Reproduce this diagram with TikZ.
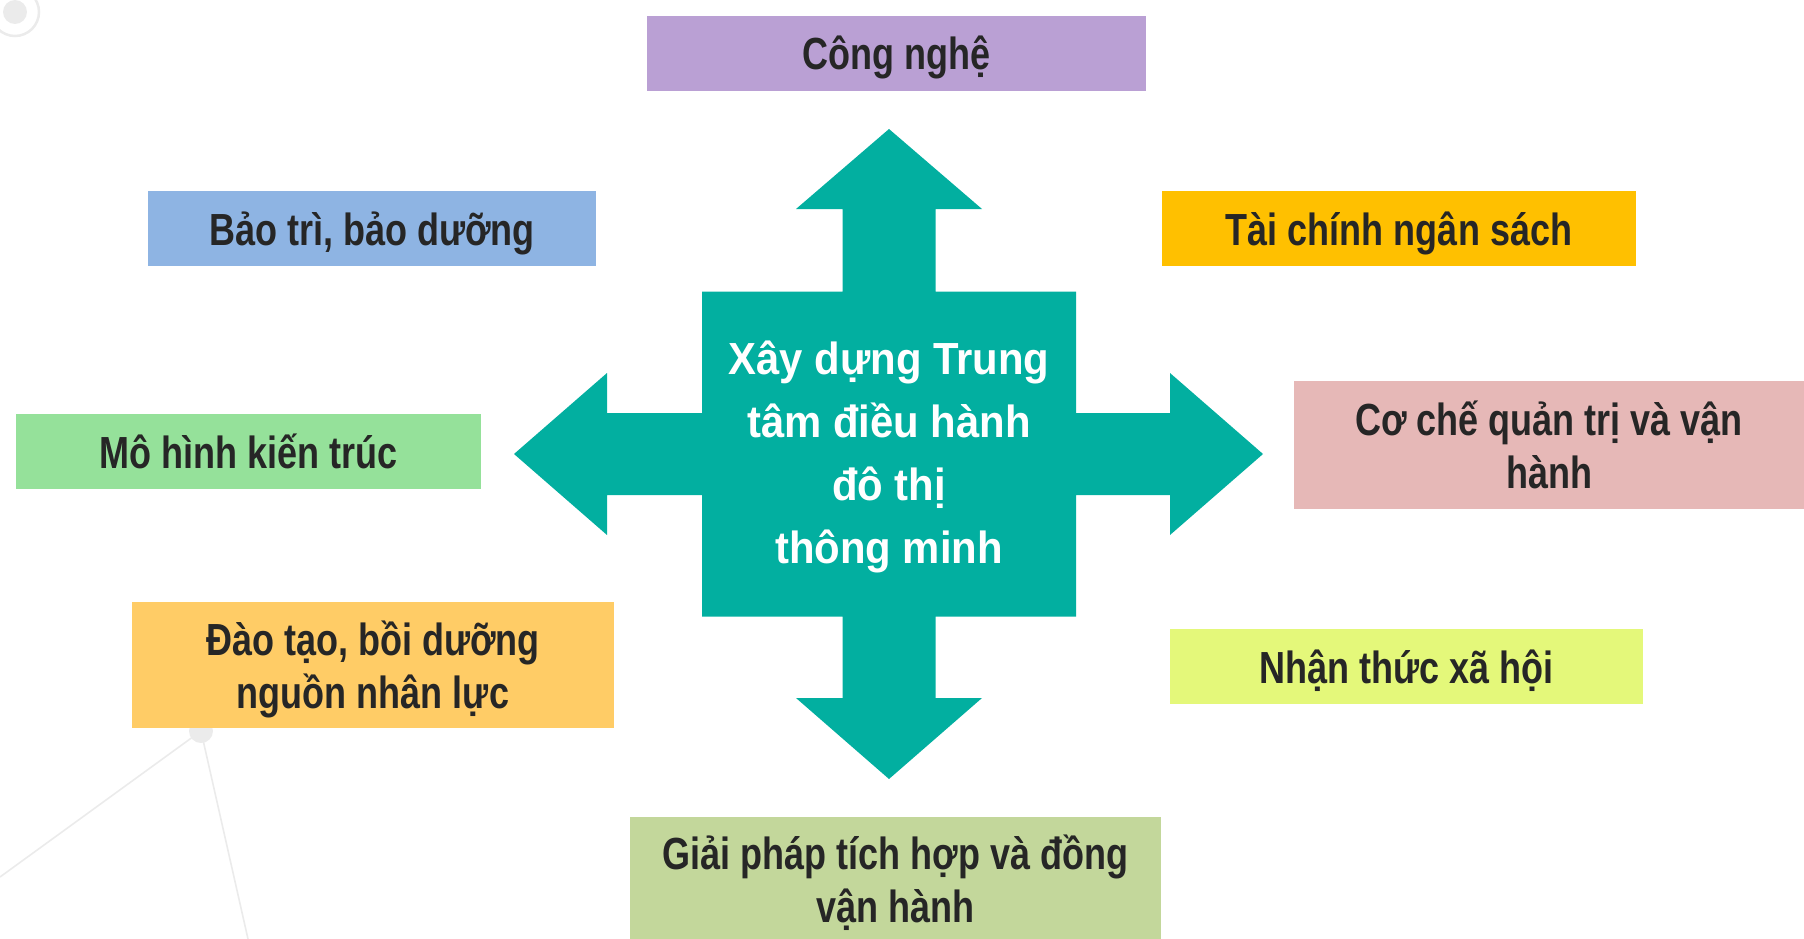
\documentclass[tikz,border=0pt]{standalone}
\usepackage{fontspec}
\newfontfamily\boxfont[FakeStretch=0.80]{Liberation Sans}
\newfontfamily\ctrfont[FakeStretch=0.93]{Liberation Sans}
\definecolor{cpurple}{RGB}{186,160,212}
\definecolor{cblue}{RGB}{142,180,227}
\definecolor{cgold}{RGB}{255,192,0}
\definecolor{cgreen}{RGB}{149,225,154}
\definecolor{cpink}{RGB}{230,184,183}
\definecolor{corange}{RGB}{255,204,102}
\definecolor{clime}{RGB}{228,248,122}
\definecolor{colive}{RGB}{195,215,155}
\definecolor{cteal}{RGB}{2,175,160}
\definecolor{ctext}{RGB}{38,38,38}
\definecolor{cdeco}{RGB}{235,235,235}
\tikzset{
  topic/.style={fill=#1, draw=none, inner sep=0pt, align=center, text=ctext,
    text depth=0pt,
    font=\boxfont\bfseries\fontsize{45}{53}\selectfont},
  oneline/.style={text height=33pt},
  deco/.style={draw=cdeco, line width=1.6pt},
}
\begin{document}
\begin{tikzpicture}[x=1pt,y=-1pt]
\useasboundingbox (0,0) rectangle (1804,939);
% background decorations
\draw[cdeco, line width=2.5pt] (15,12) circle (24);
\fill[cdeco] (15,12) circle (12);
\coordinate (dot) at (201,731);
\coordinate (e1) at (0,877);
\coordinate (e2) at (248,939);
\draw[deco] (dot) -- (e1);
\draw[deco] (dot) -- (e2);
\fill[cdeco] (dot) circle (12);
% central cross arrow
\fill[cteal] (889,129) -- (982,209) -- (935.5,209) -- (935.5,291.5) -- (1076,291.5)
  -- (1076,413) -- (1170,413) -- (1170,373) -- (1263,454) -- (1170,535) -- (1170,495)
  -- (1076,495) -- (1076,616.5) -- (935.5,616.5) -- (935.5,698) -- (982,698) -- (889,779)
  -- (796,698) -- (842.5,698) -- (842.5,616.5) -- (702,616.5) -- (702,495) -- (607,495)
  -- (607,535) -- (514,454) -- (607,373) -- (607,413) -- (702,413) -- (702,291.5)
  -- (842.5,291.5) -- (842.5,209) -- (796,209) -- cycle;
\node[text=white, align=center, font=\ctrfont\bfseries\fontsize{45}{63}\selectfont]
  (center) at (889,457) {Xây dựng Trung\\tâm điều hành\\đô thị\\thông minh};
% topic boxes
\node[topic=cpurple, oneline, minimum width=499pt, minimum height=75pt] (tech) at (896.5,53.5) {Công nghệ};
\node[topic=cblue, oneline, minimum width=448pt, minimum height=75pt] (maint) at (372,228.5) {Bảo trì, bảo dưỡng};
\node[topic=cgold, oneline, minimum width=474pt, minimum height=75pt] (fin) at (1399,228.5) {Tài chính ngân sách};
\node[topic=cgreen, oneline, minimum width=465pt, minimum height=75pt] (arch) at (248.5,451.5) {Mô hình kiến trúc};
\node[topic=cpink, minimum width=510pt, minimum height=128pt] (gov) at (1549,444.5) {Cơ chế quản trị và vận\\hành};
\node[topic=corange, minimum width=482pt, minimum height=126pt] (train) at (373,665) {Đào tạo, bồi dưỡng\\nguồn nhân lực};
\node[topic=clime, oneline, minimum width=473pt, minimum height=75pt] (soc) at (1406.5,666.5) {Nhận thức xã hội};
\node[topic=colive, minimum width=531pt, minimum height=123pt] (integ) at (895.5,878.5) {Giải pháp tích hợp và đồng\\vận hành};
\end{tikzpicture}
\end{document}
